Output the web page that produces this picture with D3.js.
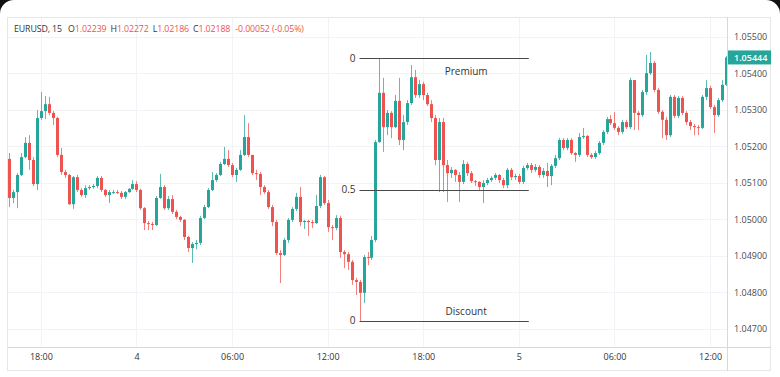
<!DOCTYPE html>
<html>
<head>
<meta charset="utf-8">
<script src="https://cdn.jsdelivr.net/npm/d3@7"></script>
<style>
  body { margin: 0; background: #fff; }
  svg { display: block; font-family: "Open Sans", sans-serif; }
</style>
</head>
<body>
<svg id="chart"></svg>
<script>
// EURUSD 15m candles, index 0 = 18:00 on day 3 (first candle is 16:00)
var firstIndex = -8;
var firstOpen = 1.05166;
var closes = [
  1.05059,1.05075,1.05122,1.05171,1.05210,1.05163,1.05097,1.05278,1.05297,1.05316,1.05292,1.05278,
  1.05177,1.05130,1.05122,1.05042,1.05116,1.05081,1.05067,1.05086,1.05089,1.05092,1.05114,1.05081,
  1.05067,1.05075,1.05075,1.05073,1.05062,1.05075,1.05084,1.05097,1.05081,1.05031,1.04990,1.04988,
  1.04985,1.05059,1.05089,1.05031,1.05056,1.05021,1.05007,1.04999,1.04952,1.04922,1.04933,1.04936,
  1.05004,1.05034,1.05081,1.05108,1.05122,1.05152,1.05166,1.05149,1.05122,1.05136,1.05177,1.05226,
  1.05177,1.05127,1.05125,1.05089,1.05075,1.05034,1.04993,1.04908,1.04903,1.04944,1.04999,1.05029,
  1.05062,1.04993,1.04996,1.04993,1.04990,1.05037,1.05116,1.05045,1.04979,1.04977,1.05004,1.04911,
  1.04905,1.04884,1.04834,1.04829,1.04799,1.04897,1.04895,1.04944,1.05212,1.05347,1.05253,1.05292,
  1.05253,1.05325,1.05218,1.05267,1.05319,1.05390,1.05341,1.05371,1.05341,1.05316,1.05278,1.05163,
  1.05267,1.05149,1.05127,1.05136,1.05122,1.05103,1.05152,1.05127,1.05105,1.05103,1.05089,1.05100,
  1.05108,1.05114,1.05122,1.05108,1.05094,1.05136,1.05116,1.05119,1.05103,1.05141,1.05149,1.05136,
  1.05144,1.05122,1.05133,1.05119,1.05147,1.05168,1.05218,1.05196,1.05218,1.05182,1.05177,1.05226,
  1.05229,1.05177,1.05171,1.05182,1.05210,1.05240,1.05275,1.05264,1.05251,1.05240,1.05267,1.05253,
  1.05382,1.05292,1.05286,1.05349,1.05401,1.05429,1.05355,1.05295,1.05273,1.05231,1.05336,1.05284,
  1.05333,1.05292,1.05267,1.05256,1.05253,1.05251,1.05336,1.05360,1.05308,1.05286,1.05327,1.05369,
  1.05444
];
var highs = [
  1.05182,1.05081,1.05127,1.05182,1.05226,1.05231,1.05171,1.05300,1.05349,1.05338,1.05336,1.05297,
  1.05281,1.05196,1.05136,1.05125,1.05119,1.05122,1.05086,1.05094,1.05094,1.05097,1.05119,1.05119,
  1.05084,1.05081,1.05081,1.05081,1.05078,1.05078,1.05086,1.05108,1.05105,1.05084,1.05034,1.04996,
  1.04993,1.05064,1.05125,1.05094,1.05064,1.05067,1.05026,1.05010,1.05001,1.04955,1.04938,1.04944,
  1.05010,1.05040,1.05086,1.05130,1.05127,1.05158,1.05199,1.05190,1.05155,1.05141,1.05190,1.05286,
  1.05264,1.05177,1.05136,1.05130,1.05094,1.05081,1.05040,1.04999,1.04916,1.04949,1.05004,1.05034,
  1.05073,1.05089,1.04999,1.04999,1.04999,1.05067,1.05122,1.05119,1.05053,1.04985,1.05012,1.05010,
  1.04916,1.04911,1.04889,1.04840,1.04834,1.04903,1.04911,1.04955,1.05218,1.05442,1.05388,1.05300,
  1.05297,1.05341,1.05388,1.05286,1.05327,1.05423,1.05410,1.05382,1.05377,1.05347,1.05327,1.05286,
  1.05278,1.05278,1.05163,1.05144,1.05138,1.05130,1.05163,1.05158,1.05133,1.05108,1.05105,1.05108,
  1.05114,1.05119,1.05127,1.05125,1.05114,1.05141,1.05141,1.05125,1.05125,1.05147,1.05155,1.05155,
  1.05152,1.05149,1.05141,1.05155,1.05152,1.05177,1.05223,1.05223,1.05223,1.05223,1.05185,1.05237,
  1.05251,1.05231,1.05182,1.05188,1.05215,1.05245,1.05281,1.05286,1.05295,1.05256,1.05273,1.05273,
  1.05388,1.05382,1.05297,1.05355,1.05451,1.05459,1.05434,1.05360,1.05300,1.05281,1.05341,1.05341,
  1.05338,1.05338,1.05297,1.05273,1.05262,1.05259,1.05341,1.05382,1.05366,1.05314,1.05333,1.05382,
  1.05448
];
var lows = [
  1.05034,1.05045,1.05031,1.05119,1.05168,1.05136,1.05092,1.05081,1.05273,1.05275,1.05286,1.05259,
  1.05171,1.05122,1.05114,1.05040,1.05029,1.05075,1.05062,1.05059,1.05081,1.05084,1.05086,1.05075,
  1.05062,1.05045,1.05070,1.05070,1.05056,1.05056,1.05073,1.05081,1.05075,1.05026,1.04971,1.04971,
  1.04971,1.04982,1.05056,1.05026,1.05026,1.05015,1.05001,1.04993,1.04944,1.04911,1.04881,1.04919,
  1.04930,1.05001,1.05031,1.05078,1.05103,1.05119,1.05149,1.05144,1.05116,1.05103,1.05133,1.05174,
  1.05171,1.05122,1.05108,1.05067,1.05070,1.05029,1.04982,1.04903,1.04826,1.04900,1.04936,1.04993,
  1.05023,1.04982,1.04974,1.04955,1.04977,1.04988,1.05031,1.05040,1.04966,1.04944,1.04971,1.04895,
  1.04867,1.04862,1.04821,1.04793,1.04722,1.04771,1.04875,1.04889,1.04938,1.05210,1.05185,1.05231,
  1.05223,1.05251,1.05204,1.05190,1.05259,1.05314,1.05333,1.05333,1.05327,1.05311,1.05267,1.05149,
  1.05075,1.05075,1.05048,1.05114,1.05103,1.05048,1.05097,1.05119,1.05100,1.05092,1.05081,1.05045,
  1.05094,1.05103,1.05108,1.05100,1.05086,1.05086,1.05108,1.05108,1.05097,1.05097,1.05136,1.05127,
  1.05130,1.05114,1.05114,1.05089,1.05094,1.05141,1.05163,1.05190,1.05190,1.05177,1.05158,1.05171,
  1.05221,1.05171,1.05166,1.05166,1.05177,1.05204,1.05234,1.05259,1.05245,1.05231,1.05234,1.05248,
  1.05248,1.05245,1.05245,1.05281,1.05341,1.05396,1.05349,1.05289,1.05223,1.05218,1.05226,1.05278,
  1.05278,1.05286,1.05259,1.05245,1.05231,1.05231,1.05248,1.05327,1.05303,1.05237,1.05281,1.05322,
  1.05366
];

var priceTicks = [1.047, 1.048, 1.049, 1.050, 1.051, 1.052, 1.053, 1.054, 1.055];
var timeTickIndex = [0, 24, 48, 72, 96, 120, 144, 168];
var timeTickLabels = ["18:00", "4", "06:00", "12:00", "18:00", "5", "06:00", "12:00"];
var lastPrice = 1.05444;

// fib drawn from the swing low candle to the right
var fibStart = 80, fibEnd = 122.5;
var fibLevelLabels = ["0", "0.5", "0"];
var zoneLabels = ["Premium", "Discount"];

var headerSymbol = "EURUSD, 15";
var headerFields = [["O", "1.02239"], ["H", "1.02272"], ["L", "1.02186"], ["C", "1.02188"]];
var headerChange = "-0.00052 (-0.05%)";

var width = 780, height = 377;
var up = "#26a69a", down = "#ef5350";

var candles = closes.map(function (c, k) {
  return {
    i: firstIndex + k,
    o: k === 0 ? firstOpen : closes[k - 1],
    c: c,
    h: highs[k],
    l: lows[k]
  };
});

var svg = d3.select("#chart").attr("width", width).attr("height", height);

var plot = { left: 7, right: 727, top: 18, bottom: 347 };

var x = d3.scaleLinear().domain([firstIndex, firstIndex + closes.length - 1]).range([9, 726]);
var y = d3.scaleLinear().domain([1.047, 1.055]).range([329, 37]);

svg.append("rect").attr("width", width).attr("height", height).attr("fill", "#fff");

// pane frame
svg.append("rect")
  .attr("x", 7.5).attr("y", 17.5).attr("width", 763).attr("height", 353)
  .attr("fill", "none").attr("stroke", "#e6e6e6");

svg.append("defs").append("clipPath").attr("id", "clip")
  .append("rect").attr("x", plot.left).attr("y", plot.top)
  .attr("width", plot.right - plot.left).attr("height", plot.bottom - plot.top);

// grid
var grid = svg.append("g");
grid.selectAll(".hg").data(priceTicks).enter().append("line")
  .attr("x1", plot.left + 1).attr("x2", plot.right)
  .attr("y1", function (d) { return Math.round(y(d)) + 0.5; })
  .attr("y2", function (d) { return Math.round(y(d)) + 0.5; })
  .attr("stroke", "#f1f3f6");
grid.selectAll(".vg").data(timeTickIndex).enter().append("line")
  .attr("y1", plot.top).attr("y2", plot.bottom)
  .attr("x1", function (d) { return Math.round(x(d)) + 0.5; })
  .attr("x2", function (d) { return Math.round(x(d)) + 0.5; })
  .attr("stroke", "#f1f3f6");

// candles
var cg = svg.append("g").attr("clip-path", "url(#clip)");
var candle = cg.selectAll(".candle").data(candles).enter().append("g");
candle.append("line")
  .attr("x1", function (d) { return Math.round(x(d.i)) + 0.5; })
  .attr("x2", function (d) { return Math.round(x(d.i)) + 0.5; })
  .attr("y1", function (d) { return y(Math.max(d.h, d.o, d.c)); })
  .attr("y2", function (d) { return y(Math.min(d.l, d.o, d.c)); })
  .attr("stroke", function (d) { return d.c >= d.o ? up : down; })
  .attr("stroke-opacity", 0.75);
candle.append("rect")
  .attr("x", function (d) { return Math.round(x(d.i)) - 1; })
  .attr("width", 3)
  .attr("y", function (d) { return y(Math.max(d.o, d.c)); })
  .attr("height", function (d) { return Math.max(1, Math.abs(y(d.o) - y(d.c))); })
  .attr("fill", function (d) { return d.c >= d.o ? up : down; });

// axes
svg.append("line")
  .attr("x1", plot.right + 0.5).attr("x2", plot.right + 0.5)
  .attr("y1", 17).attr("y2", 371).attr("stroke", "#d8d8d8");
svg.append("line")
  .attr("x1", 8).attr("x2", 771)
  .attr("y1", plot.bottom + 0.5).attr("y2", plot.bottom + 0.5).attr("stroke", "#d8d8d8");

var yAxis = svg.append("g")
  .attr("transform", "translate(" + plot.right + ",0)")
  .call(d3.axisRight(y).tickValues(priceTicks).tickFormat(d3.format(".5f")).tickSize(0).tickPadding(7));
yAxis.select(".domain").remove();
yAxis.selectAll("text").attr("font-size", 9).attr("fill", "#4c4c4c")
  .attr("font-family", "'Open Sans', sans-serif");

var xAxis = svg.append("g")
  .attr("transform", "translate(0," + plot.bottom + ")")
  .call(d3.axisBottom(x).tickValues(timeTickIndex)
    .tickFormat(function (d, k) { return timeTickLabels[k]; }).tickSize(0).tickPadding(7));
xAxis.select(".domain").remove();
xAxis.selectAll("text").attr("font-size", 9).attr("fill", "#333")
  .attr("font-family", "'Open Sans', sans-serif");

// last price tag
var tag = svg.append("g").attr("transform", "translate(" + (plot.right + 1) + "," + y(lastPrice) + ")");
tag.append("rect").attr("x", 0).attr("y", -7).attr("width", 43).attr("height", 14).attr("fill", up);
tag.append("text").attr("x", 6).attr("dy", "0.35em").attr("font-size", 9).attr("fill", "#fff")
  .attr("font-weight", 600).text(d3.format(".5f")(lastPrice));

// premium / discount range
var fibSlice = candles.filter(function (d) { return d.i >= fibStart && d.i <= fibEnd; });
var fibHigh = d3.max(fibSlice, function (d) { return d.h; });
var fibLow = d3.min(fibSlice, function (d) { return d.l; });
var fibLevels = [fibHigh, (fibHigh + fibLow) / 2, fibLow];
var fib = svg.append("g");
fib.selectAll("line").data(fibLevels).enter().append("line")
  .attr("x1", x(fibStart)).attr("x2", x(fibEnd))
  .attr("y1", function (d) { return Math.round(y(d)) + 0.5; })
  .attr("y2", function (d) { return Math.round(y(d)) + 0.5; })
  .attr("stroke", "#4a4a4a").attr("stroke-width", 1);
fib.selectAll("text").data(fibLevels).enter().append("text")
  .attr("x", x(fibStart) - 4)
  .attr("y", function (d) { return y(d); })
  .attr("dy", "0.35em").attr("text-anchor", "end")
  .attr("font-size", 10).attr("fill", "#333")
  .text(function (d, k) { return fibLevelLabels[k]; });
fib.append("text")
  .attr("x", (x(fibStart) + x(fibEnd)) / 2 + 22).attr("y", y(fibHigh) + 17)
  .attr("text-anchor", "middle").attr("font-size", 10).attr("fill", "#333").text(zoneLabels[0]);
fib.append("text")
  .attr("x", (x(fibStart) + x(fibEnd)) / 2 + 22).attr("y", y(fibLow) - 6)
  .attr("text-anchor", "middle").attr("font-size", 10).attr("fill", "#333").text(zoneLabels[1]);

// header legend
var hdr = svg.append("text").attr("x", 14).attr("y", 32).attr("font-size", 8.8)
  .attr("fill", "#333").attr("letter-spacing", -0.1);
hdr.append("tspan").text(headerSymbol);
headerFields.forEach(function (f, k) {
  hdr.append("tspan").attr("dx", k === 0 ? 6 : 4).attr("fill", "#333").text(f[0]);
  hdr.append("tspan").attr("fill", down).text(f[1]);
});
hdr.append("tspan").attr("dx", 5).attr("fill", down).text(headerChange);

// dark outer corners at the top
svg.append("path").attr("d", "M0,0 L14,0 A14,14 0 0 0 0,14 Z").attr("fill", "#111");
svg.append("path").attr("d", "M780,0 L766,0 A14,14 0 0 1 780,14 Z").attr("fill", "#111");
</script>
</body>
</html>
